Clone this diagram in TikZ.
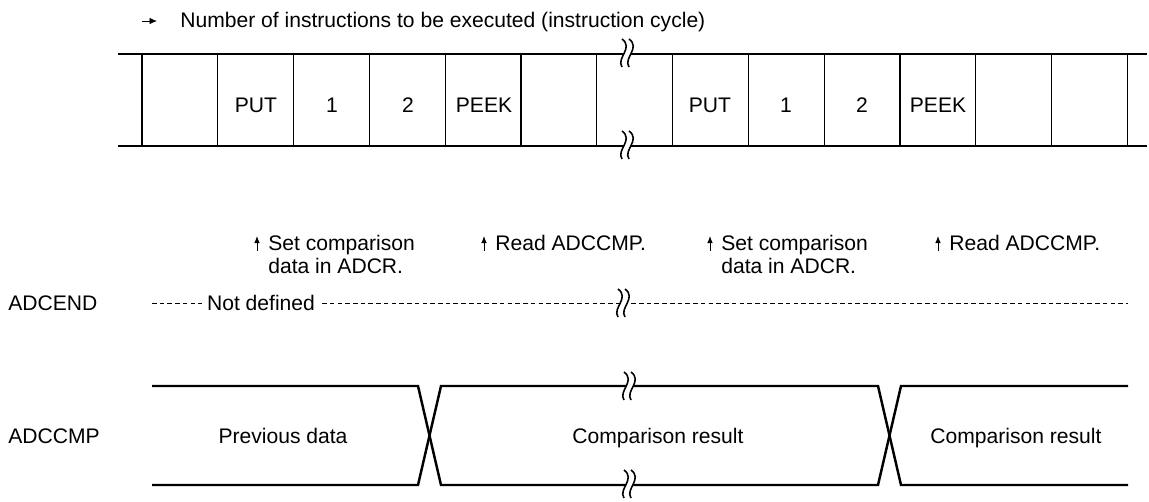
\documentclass[tikz,border=0pt]{standalone}
\usepackage{fontspec}
\setmainfont{Liberation Sans}
\usetikzlibrary{arrows.meta,positioning,calc}
\tikzset{
  texto/.style={font=\fontsize{12}{13.2}\selectfont,inner sep=0pt},
  bus/.style={line width=1.5pt},
  celda/.style={line width=0.7pt},
  senal/.style={line width=1.4pt,line join=miter},
  flecha/.style={-{Latex[length=1.4mm,width=1.1mm]},line width=0.5pt},
  flechat/.style={-{Latex[length=1.5mm,width=1.3mm]},line width=0.5pt},
  corte/.style={line width=0.9pt},
  nodef/.style={dash pattern=on 2.6pt off 1.8pt,line width=0.5pt},
}
\newcommand{\marcacorte}[2]{%
  \fill[white] ({#1-3},{#2-14}) .. controls ({#1+9},{#2-5}) and ({#1-9},{#2+5}) .. ({#1-3},{#2+14})
    -- ({#1+4},{#2+14}) .. controls ({#1-2},{#2+5}) and ({#1+16},{#2-5}) .. ({#1+4},{#2-14}) -- cycle;
  \draw[corte] ({#1-3},{#2-14}) .. controls ({#1+9},{#2-5}) and ({#1-9},{#2+5}) .. ({#1-3},{#2+14});
  \draw[corte] ({#1+4},{#2-14}) .. controls ({#1+16},{#2-5}) and ({#1-2},{#2+5}) .. ({#1+4},{#2+14});
}

\begin{document}
\begin{tikzpicture}[x=0.02cm,y=-0.02cm]
  \useasboundingbox (0,0) rectangle (1149,501);
  % instruction bar
  \coordinate (t0) at (142,21);
  \node[texto,anchor=base west] (titulo) at (180,27) {Number of instructions to be executed (instruction cycle)};
  \draw[flechat] (t0) -- ++(15,0);
  \draw[bus] (118,54) -- (1147,54);
  \draw[bus] (118,146) -- (1147,146);
  \foreach \i in {0,...,13} \draw[celda] ({142+75.8*\i},54) -- ({142+75.8*\i},146);
  \node[texto,anchor=base] (put1) at (256,112) {PUT};
  \node[texto,anchor=base] (uno1) at (332,112) {1};
  \node[texto,anchor=base] (dos1) at (408,112) {2};
  \node[texto,anchor=base] (peek1) at (484,112) {PEEK};
  \node[texto,anchor=base] (put2) at (710,112) {PUT};
  \node[texto,anchor=base] (uno2) at (786,112) {1};
  \node[texto,anchor=base] (dos2) at (862,112) {2};
  \node[texto,anchor=base] (peek2) at (938,112) {PEEK};
  \marcacorte{625}{53}
  \marcacorte{625}{145}
  % set / read points
  \node[texto,anchor=north west,align=left] (set1) at (268,235) {Set comparison\\data in ADCR.};
  \node[texto,anchor=north west] (read1) at (495,235) {Read ADCCMP.};
  \node[texto,anchor=north west,align=left] (set2) at (721,235) {Set comparison\\data in ADCR.};
  \node[texto,anchor=north west] (read2) at (949,235) {Read ADCCMP.};
  \draw[flecha] ($(set1.north west)+(-11,16)$) -- ++(0,-15);
  \draw[flecha] ($(read1.north west)+(-11,16)$) -- ++(0,-15);
  \draw[flecha] ($(set2.north west)+(-11,16)$) -- ++(0,-15);
  \draw[flecha] ($(read2.north west)+(-11,16)$) -- ++(0,-15);
  % ADCEND
  \node[texto,anchor=base west] (adcend) at (8,310) {ADCEND};
  \draw[nodef] (152,303) -- (1128,303);
  \node[texto,anchor=base,fill=white,inner xsep=3pt] (nodef) at (261,310) {Not defined};
  \marcacorte{621}{303}
  % ADCCMP
  \node[texto,anchor=base west] (adccmp) at (8,443) {ADCCMP};
  \draw[senal] (152,386) -- (418,386) -- (441,485) -- (878,485) -- (901,386) -- (1128,386);
  \draw[senal] (152,485) -- (418,485) -- (441,386) -- (878,386) -- (901,485) -- (1128,485);
  \node[texto,anchor=base] (prev) at (283,443) {Previous data};
  \node[texto,anchor=base] (res1) at (658,443) {Comparison result};
  \node[texto,anchor=base] (res2) at (1016,443) {Comparison result};
  \marcacorte{627}{386}
  \marcacorte{627}{484}
\end{tikzpicture}
\end{document}
